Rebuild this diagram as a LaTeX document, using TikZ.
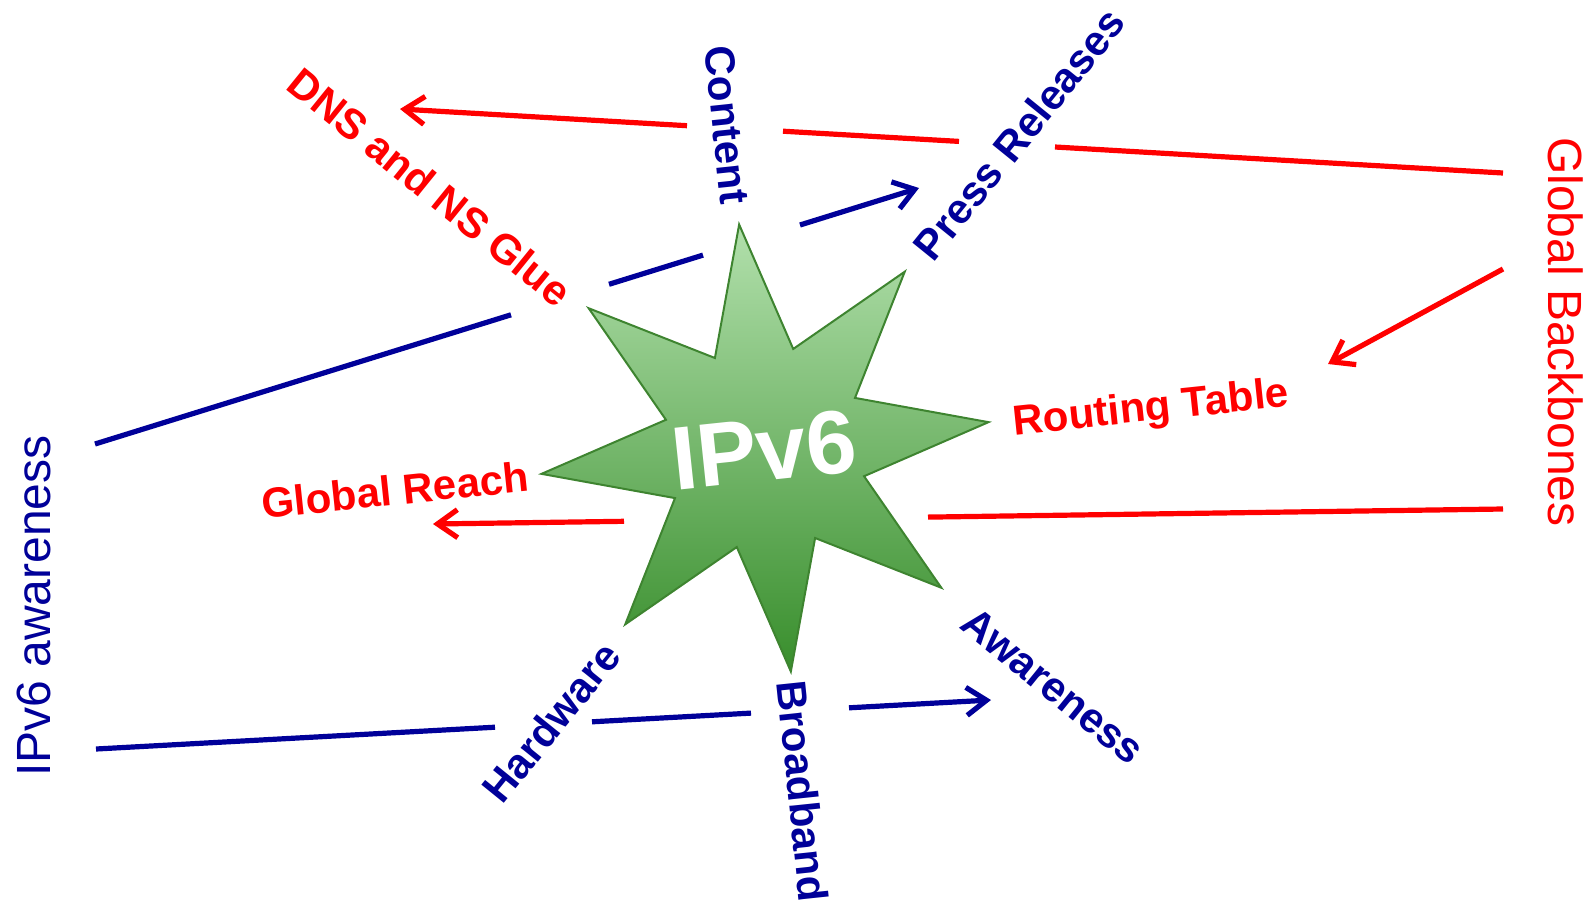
\documentclass[tikz,border=0pt]{standalone}
\usepackage{fontspec}
\setmainfont{Liberation Sans}
\usetikzlibrary{arrows.meta}
\definecolor{lred}{HTML}{FF0000}
\definecolor{lblue}{HTML}{000099}
\definecolor{startop}{RGB}{178,224,172}
\definecolor{starmid}{RGB}{142,200,132}
\definecolor{starbot}{RGB}{56,142,44}
\definecolor{starline}{RGB}{62,132,48}
\begin{document}
\begin{tikzpicture}[x=1pt,y=-1pt,
  redline/.style={draw=lred,line width=5.2pt},
  blueline/.style={draw=lblue,line width=5.2pt},
  tipped/.style={-{Straight Barb[length=20pt,width=28pt]}},
  redlab/.style={text=lred,font=\fontsize{42}{50}\selectfont\bfseries,inner sep=0pt},
  bluelab/.style={text=lblue,font=\fontsize{42}{50}\selectfont\bfseries,inner sep=0pt},
  bigred/.style={text=lred,font=\fontsize{48}{56}\selectfont,inner sep=0pt},
  bigblue/.style={text=lblue,font=\fontsize{48}{56}\selectfont,inner sep=0pt},
  starstyle/.style={top color=startop,middle color=starmid,bottom color=starbot,draw=starline,line width=2pt,line join=miter}]
\useasboundingbox (0,0) rectangle (1591,903);

% central star
\shade[starstyle] ({765+225*cos(6.6)},{448-225*sin(6.6)})
  \foreach \i in {0,...,7}{
    -- ({765+103*cos(29.1+45*\i)},{448-103*sin(29.1+45*\i)})
    -- ({765+225*cos(51.6+45*\i)},{448-225*sin(51.6+45*\i)})
  } -- cycle;
\node[rotate=6,text=white,font=\fontsize{90}{100}\selectfont\bfseries,inner sep=0pt] (ipv6) at (764,450) {IPv6};

% labels
\node[redlab,rotate=-39] (dns) at (430,187) {DNS and NS Glue};
\node[bluelab,rotate=-84] (content) at (727,125) {Content};
\node[bluelab,rotate=51] (press) at (1019,134) {Press Releases};
\node[redlab,rotate=6] (routing) at (1151,410) {Routing Table};
\node[redlab,rotate=6] (reach) at (395,490) {Global Reach};
\node[bluelab,rotate=51] (hw) at (551,722) {Hardware};
\node[bluelab,rotate=-84] (bb) at (803,791) {Broadband};
\node[bluelab,rotate=-39] (aw) at (1053,686) {Awareness};
\node[bigred,rotate=-90,anchor=base] (gb) at (1548,332) {Global Backbones};
\node[bigblue,rotate=90,anchor=base] (v6aw) at (50,606) {IPv6 awareness};

% connector end points
\coordinate (gbA) at (1503,173);
\coordinate (a1) at (1055,147.0);
\coordinate (a2) at (959,141.4);
\coordinate (a3) at (783,131.2);
\coordinate (a4) at (687,125.7);
\coordinate (dnsT) at (400,109);

\coordinate (awB) at (95,444);
\coordinate (b1) at (511,314.8);
\coordinate (b2) at (609,284.3);
\coordinate (b3) at (703,255.1);
\coordinate (b4) at (800,225.0);
\coordinate (pressT) at (919,188);

\coordinate (awC) at (96,749);
\coordinate (c1) at (495,727.2);
\coordinate (c2) at (592,721.8);
\coordinate (c3) at (751,713.1);
\coordinate (c4) at (849,707.8);
\coordinate (awT) at (991,700);

\coordinate (gbD) at (1503,269);
\coordinate (routT) at (1328,364);

\coordinate (gbE) at (1503,509);
\coordinate (e1) at (928,517.1);
\coordinate (e2) at (624,521.3);
\coordinate (reachT) at (433,524);

% red: Global Backbones -> DNS and NS Glue
\draw[redline] (gbA) -- (a1);
\draw[redline] (a2) -- (a3);
\draw[redline,tipped] (a4) -- (dnsT);
% blue: IPv6 awareness -> Press Releases
\draw[blueline] (awB) -- (b1);
\draw[blueline] (b2) -- (b3);
\draw[blueline,tipped] (b4) -- (pressT);
% blue: IPv6 awareness -> Awareness
\draw[blueline] (awC) -- (c1);
\draw[blueline] (c2) -- (c3);
\draw[blueline,tipped] (c4) -- (awT);
% red: Global Backbones -> Routing Table
\draw[redline,tipped] (gbD) -- (routT);
% red: Global Backbones -> Global Reach
\draw[redline] (gbE) -- (e1);
\draw[redline,tipped] (e2) -- (reachT);
\end{tikzpicture}
\end{document}
